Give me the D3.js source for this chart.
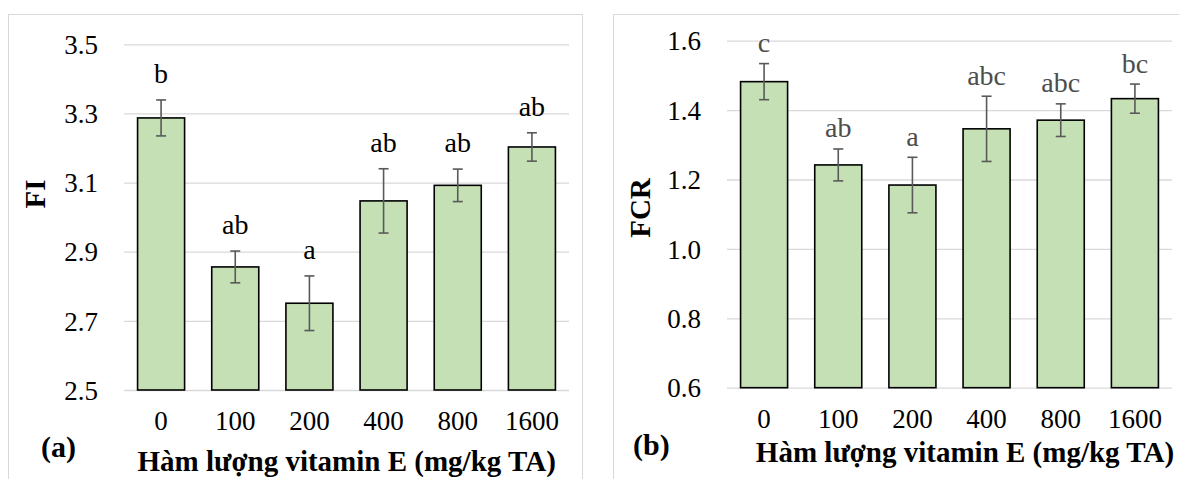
<!DOCTYPE html>
<html>
<head>
<meta charset="utf-8">
<script src="https://cdn.jsdelivr.net/npm/d3@7"></script>
<style>
  html, body { margin: 0; padding: 0; background: #fff; }
  svg { display: block; }
  text { font-family: "Liberation Serif", "Times New Roman", serif; }
</style>
</head>
<body>
<svg id="chart" width="1179" height="479"></svg>
<script>
// ---- data ----
const categories = ["0", "100", "200", "400", "800", "1600"];

const fiValues  = [3.287, 2.856, 2.751, 3.047, 3.092, 3.203];
const fiErrors  = [0.052, 0.046, 0.079, 0.093, 0.047, 0.041];
const fiLetters = ["b", "ab", "a", "ab", "ab", "ab"];
const fiTicks   = [2.5, 2.7, 2.9, 3.1, 3.3, 3.5];

const fcrValues  = [1.482, 1.242, 1.184, 1.346, 1.371, 1.433];
const fcrErrors  = [0.052, 0.046, 0.080, 0.094, 0.047, 0.042];
const fcrLetters = ["c", "ab", "a", "abc", "abc", "bc"];
const fcrTicks   = [0.6, 0.8, 1.0, 1.2, 1.4, 1.6];

const xTitle = "Hàm lượng vitamin E (mg/kg TA)";

// ---- drawing ----
const svg = d3.select("#chart");

function panel(opts) {
  const { frame, plot, values, errors, letters, ticks, yTitle, tag, tagPos,
          yTitlePos, xTitleCenter, xTitleY, letterColor, letterGap, catBaseline } = opts;

  svg.append("rect")
    .attr("x", frame.x + 0.5).attr("y", frame.y + 0.5)
    .attr("width", frame.w).attr("height", frame.h)
    .attr("fill", "#fff").attr("stroke", "#d9d9d9").attr("stroke-width", 1);

  const y = d3.scaleLinear().domain([ticks[0], ticks[ticks.length - 1]])
    .range([plot.bottom, plot.top]);
  const x = d3.scaleBand().domain(categories)
    .range([plot.left, plot.right]).paddingInner(0.366).paddingOuter(0.183);

  const width = plot.right - plot.left;

  // y axis with gridlines
  const gy = svg.append("g")
    .attr("transform", `translate(${plot.left},0)`)
    .call(d3.axisLeft(y).tickValues(ticks).tickFormat(d3.format(".1f"))
      .tickSize(-width).tickPadding(26));
  gy.select(".domain").remove();
  gy.selectAll(".tick line").attr("stroke", "#d9d9d9").attr("stroke-width", 1.3);
  gy.selectAll(".tick text").attr("font-size", 27).attr("fill", "#000")
    .attr("font-family", "'Liberation Serif', 'Times New Roman', serif")
    .attr("dy", "0.34em");

  // x axis labels
  const gx = svg.append("g")
    .attr("transform", `translate(0,${plot.bottom})`)
    .call(d3.axisBottom(x).tickSize(0).tickPadding(0));
  gx.select(".domain").remove();
  gx.selectAll(".tick text").attr("font-size", 27).attr("fill", "#000")
    .attr("font-family", "'Liberation Serif', 'Times New Roman', serif")
    .attr("y", catBaseline).attr("dy", 0);

  const data = categories.map((c, i) => ({ c, v: values[i], e: errors[i], l: letters[i] }));

  // bars
  svg.append("g").selectAll("rect").data(data).join("rect")
    .attr("x", d => x(d.c))
    .attr("y", d => y(d.v))
    .attr("width", x.bandwidth())
    .attr("height", d => y(ticks[0]) - y(d.v))
    .attr("fill", "#c5e0b4")
    .attr("stroke", "#000").attr("stroke-width", 1.6);

  // error bars
  const eg = svg.append("g").attr("stroke", "#595959").attr("stroke-width", 1.6);
  const cx = d => x(d.c) + x.bandwidth() / 2;
  eg.selectAll("line.v").data(data).join("line").attr("class", "v")
    .attr("x1", cx).attr("x2", cx)
    .attr("y1", d => y(d.v + d.e)).attr("y2", d => y(d.v - d.e));
  eg.selectAll("line.t").data(data).join("line").attr("class", "t")
    .attr("x1", d => cx(d) - 5).attr("x2", d => cx(d) + 5)
    .attr("y1", d => y(d.v + d.e)).attr("y2", d => y(d.v + d.e));
  eg.selectAll("line.b").data(data).join("line").attr("class", "b")
    .attr("x1", d => cx(d) - 5).attr("x2", d => cx(d) + 5)
    .attr("y1", d => y(d.v - d.e)).attr("y2", d => y(d.v - d.e));

  // significance letters
  svg.append("g").selectAll("text").data(data).join("text")
    .attr("x", cx)
    .attr("y", d => y(d.v + d.e) - letterGap)
    .attr("text-anchor", "middle")
    .attr("font-size", 28)
    .attr("fill", letterColor)
    .text(d => d.l);

  // y title
  svg.append("text")
    .attr("transform", `translate(${yTitlePos[0]},${yTitlePos[1]}) rotate(-90)`)
    .attr("text-anchor", "middle")
    .attr("font-size", 29).attr("font-weight", "bold")
    .text(yTitle);

  // x title
  svg.append("text")
    .attr("x", xTitleCenter).attr("y", xTitleY)
    .attr("text-anchor", "middle")
    .attr("font-size", 29).attr("font-weight", "bold")
    .text(xTitle);

  // panel tag
  svg.append("text")
    .attr("x", tagPos[0]).attr("y", tagPos[1])
    .attr("font-size", 30).attr("font-weight", "bold")
    .text(tag);
}

panel({
  frame: { x: 8, y: 14, w: 574, h: 480 },
  plot: { left: 124, right: 569, top: 44.3, bottom: 390 },
  values: fiValues, errors: fiErrors, letters: fiLetters, ticks: fiTicks,
  yTitle: "FI", yTitlePos: [45, 194],
  tag: "(a)", tagPos: [41, 456.7],
  xTitleCenter: 346.7, xTitleY: 470.7,
  letterColor: "#000", letterGap: 17, catBaseline: 40
});

panel({
  frame: { x: 613, y: 14, w: 600, h: 480 },
  plot: { left: 727, right: 1172, top: 40.7, bottom: 387.7 },
  values: fcrValues, errors: fcrErrors, letters: fcrLetters, ticks: fcrTicks,
  yTitle: "FCR", yTitlePos: [650, 208],
  tag: "(b)", tagPos: [633, 455],
  xTitleCenter: 965, xTitleY: 461.7,
  letterColor: "#4d4d4d", letterGap: 11.5, catBaseline: 40.6
});
</script>
</body>
</html>
